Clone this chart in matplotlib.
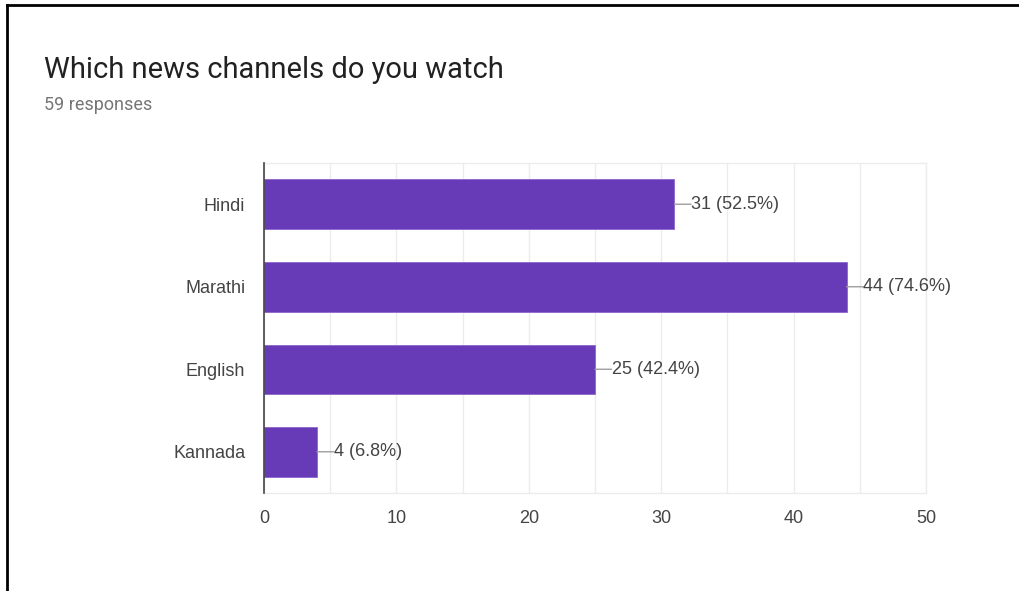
import numpy as np
import matplotlib.pyplot as plt
from matplotlib.lines import Line2D

plt.rcParams['font.family'] = ['Roboto', 'DejaVu Sans']

# data
channels = ['Hindi', 'Marathi', 'English', 'Kannada']
counts = [31, 44, 25, 4]
total = 59
title = 'Which news channels do you watch'
subtitle = '59 responses'

lab_font = ['Liberation Sans', 'DejaVu Sans']

fig = plt.figure(figsize=(10.19, 5.91), dpi=100)
ax = fig.add_axes([0.2591, 0.1658, 0.6496, 0.5584])

ypos = np.arange(len(channels))
ax.barh(ypos, counts, height=0.6, color='#673ab7', edgecolor='#8e66cc', linewidth=0.6, zorder=3)

ax.set_xlim(0, 50)
ax.set_ylim(len(channels) - 0.5, -0.5)
ax.set_xticks(np.arange(0, 51, 10))
ax.set_xticks(np.arange(0, 51, 5), minor=True)
ax.set_yticks(ypos)
ax.set_yticklabels(channels)
ax.grid(axis='x', which='both', color='#ececec', linewidth=1, zorder=0)
ax.tick_params(axis='both', which='both', length=0, labelsize=13, labelcolor='#444444')
ax.tick_params(axis='x', pad=12)
ax.tick_params(axis='y', pad=13.5)
for t in ax.get_xticklabels() + ax.get_yticklabels():
    t.set_family(lab_font)

for s in ['top', 'bottom', 'right']:
    ax.spines[s].set_color('#ececec')
    ax.spines[s].set_linewidth(1)
ax.spines['left'].set_color('#444444')
ax.spines['left'].set_linewidth(1.2)
ax.spines['left'].set_zorder(4)

# value labels with connector
for y, c in zip(ypos, counts):
    ax.annotate('', xy=(c, y), xytext=(c + 1.25, y),
                arrowprops=dict(arrowstyle='-', color='#9e9e9e', lw=1, shrinkA=0, shrinkB=0))
    ax.text(c + 1.25, y, '%d (%.1f%%)' % (c, 100.0 * c / total), va='center', ha='left',
            fontsize=13, color='#444444', family=lab_font)

fig.text(44 / 1019, 1 - 78 / 591, title, fontsize=21, color='#212121', ha='left', va='baseline')
fig.text(44 / 1019, 1 - 110 / 591, subtitle, fontsize=13, color='#757575', ha='left', va='baseline')

# frame of the screenshot
fig.add_artist(Line2D([7 / 1019, 7 / 1019], [0, 1 - 5 / 591], transform=fig.transFigure, color='black', lw=2))
fig.add_artist(Line2D([7 / 1019, 1], [1 - 5 / 591, 1 - 5 / 591], transform=fig.transFigure, color='black', lw=2))

fig.savefig('out.png', dpi=100)
